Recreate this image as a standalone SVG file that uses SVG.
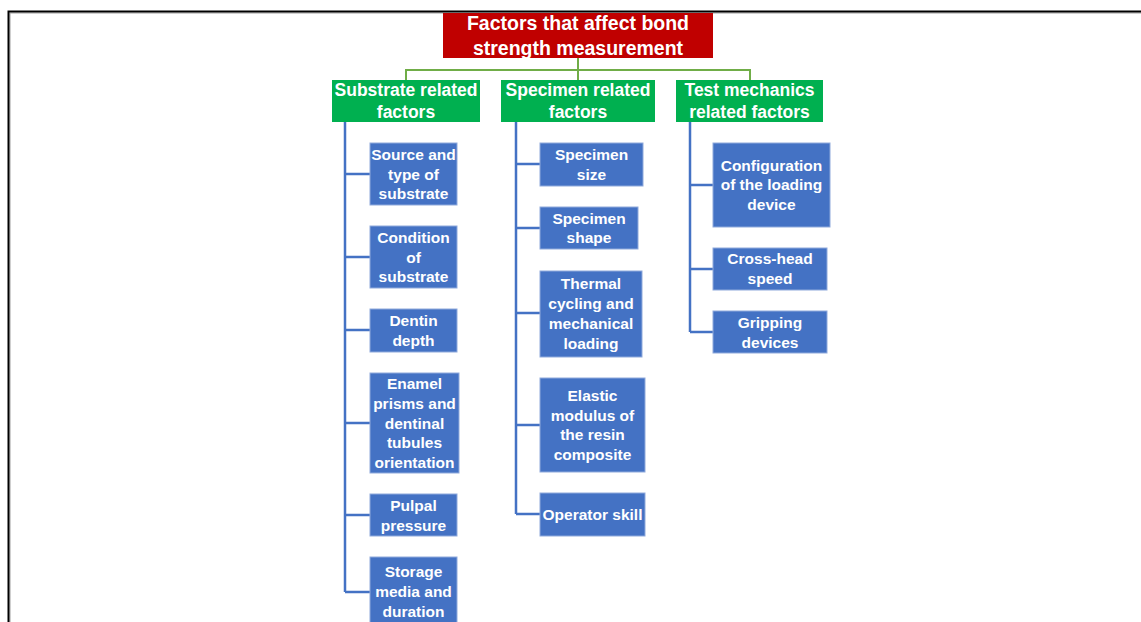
<svg xmlns="http://www.w3.org/2000/svg" width="1141" height="622" viewBox="0 0 1141 622">
<style>
.t{font-family:"Liberation Sans",Arial,sans-serif;font-weight:bold;fill:#fff;text-anchor:middle}
.b{fill:#4472C4;stroke:#8FAADC;stroke-width:1}
.g{fill:#00B050}
.bt{font-size:15.5px}
.gt{font-size:17.5px}
.rl{fill:none;stroke:#70AD47;stroke-width:2}
.bl{fill:none;stroke:#4472C4;stroke-width:2.5}
</style>
<rect x="0" y="0" width="1141" height="622" fill="#fff"/>
<g id="frame">
<path d="M10 622 V13 H1141" fill="none" stroke="#a0a0a0" stroke-width="1"/>
<path d="M8.5 622 V11.5 H1141" fill="none" stroke="#000" stroke-width="2"/>
</g>
<g id="connectors">
<path class="rl" d="M578 58 V70 M406 80 V70 H750 V80 M578 70 V80"/>
<path class="bl" d="M345 122 V592 M345 174 H370 M345 257 H370 M345 330 H370 M345 423 H370 M345 515 H370 M345 592 H370"/>
<path class="bl" d="M516 122 V514 M516 164 H540 M516 228 H540 M516 313 H540 M516 425 H540 M516 514 H540"/>
<path class="bl" d="M690 122 V332 M690 185 H713 M690 269 H713 M690 332 H713"/>
</g>
<g id="root">
<rect x="443" y="13" width="270" height="45" fill="#C00000"/>
<text class="t" x="578" y="30" font-size="19.5px">Factors that affect bond</text>
<text class="t" x="578" y="55" font-size="19.5px">strength measurement</text>
</g>
<g id="substrate">
<rect class="g" x="332" y="80" width="148" height="42"/>
<text class="t gt" x="406" y="96">Substrate related</text>
<text class="t gt" x="406" y="118">factors</text>
</g>
<g id="specimen">
<rect class="g" x="501" y="80" width="154" height="42"/>
<text class="t gt" x="578" y="96">Specimen related</text>
<text class="t gt" x="578" y="118">factors</text>
</g>
<g id="testmech">
<rect class="g" x="676" y="80" width="147" height="42"/>
<text class="t gt" x="749.5" y="96">Test mechanics</text>
<text class="t gt" x="749.5" y="118">related factors</text>
</g>
<g id="source">
<rect class="b" x="370" y="143" width="87" height="62"/>
<text class="t bt" x="413.5" y="159.5">Source and</text>
<text class="t bt" x="413.5" y="179.5">type of</text>
<text class="t bt" x="413.5" y="199">substrate</text>
</g>
<g id="condition">
<rect class="b" x="370" y="226" width="87" height="62"/>
<text class="t bt" x="413.5" y="243">Condition</text>
<text class="t bt" x="413.5" y="262.5">of</text>
<text class="t bt" x="413.5" y="282">substrate</text>
</g>
<g id="dentin">
<rect class="b" x="370" y="309" width="87" height="43"/>
<text class="t bt" x="413.5" y="326">Dentin</text>
<text class="t bt" x="413.5" y="346">depth</text>
</g>
<g id="enamel">
<rect class="b" x="370" y="373" width="89" height="100"/>
<text class="t bt" x="414.5" y="389">Enamel</text>
<text class="t bt" x="414.5" y="409">prisms and</text>
<text class="t bt" x="414.5" y="428.5">dentinal</text>
<text class="t bt" x="414.5" y="448">tubules</text>
<text class="t bt" x="414.5" y="468">orientation</text>
</g>
<g id="pulpal">
<rect class="b" x="370" y="494" width="87" height="42"/>
<text class="t bt" x="413.5" y="511">Pulpal</text>
<text class="t bt" x="413.5" y="531">pressure</text>
</g>
<g id="storage">
<rect class="b" x="370" y="557" width="87" height="70"/>
<text class="t bt" x="413.5" y="577">Storage</text>
<text class="t bt" x="413.5" y="597">media and</text>
<text class="t bt" x="413.5" y="616.5">duration</text>
</g>
<g id="size">
<rect class="b" x="540" y="143" width="103" height="43"/>
<text class="t bt" x="591.5" y="160">Specimen</text>
<text class="t bt" x="591.5" y="180">size</text>
</g>
<g id="shape">
<rect class="b" x="540" y="207" width="98" height="42"/>
<text class="t bt" x="589" y="223.5">Specimen</text>
<text class="t bt" x="589" y="243">shape</text>
</g>
<g id="thermal">
<rect class="b" x="540" y="271" width="102" height="86"/>
<text class="t bt" x="591" y="289">Thermal</text>
<text class="t bt" x="591" y="309">cycling and</text>
<text class="t bt" x="591" y="329">mechanical</text>
<text class="t bt" x="591" y="348.5">loading</text>
</g>
<g id="elastic">
<rect class="b" x="540" y="378" width="105" height="94"/>
<text class="t bt" x="592.5" y="401">Elastic</text>
<text class="t bt" x="592.5" y="421">modulus of</text>
<text class="t bt" x="592.5" y="440">the resin</text>
<text class="t bt" x="592.5" y="460">composite</text>
</g>
<g id="operator">
<rect class="b" x="540" y="493" width="105" height="43"/>
<text class="t bt" x="592.5" y="520">Operator skill</text>
</g>
<g id="config">
<rect class="b" x="713" y="143" width="117" height="84"/>
<text class="t bt" x="771.5" y="171">Configuration</text>
<text class="t bt" x="771.5" y="190">of the loading</text>
<text class="t bt" x="771.5" y="210">device</text>
</g>
<g id="crosshead">
<rect class="b" x="713" y="248" width="114" height="42"/>
<text class="t bt" x="770" y="264">Cross-head</text>
<text class="t bt" x="770" y="284">speed</text>
</g>
<g id="gripping">
<rect class="b" x="713" y="311" width="114" height="42"/>
<text class="t bt" x="770" y="328">Gripping</text>
<text class="t bt" x="770" y="347.5">devices</text>
</g>
</svg>
